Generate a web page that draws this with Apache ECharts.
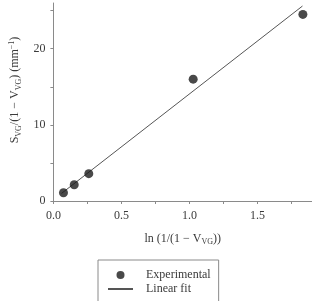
<!DOCTYPE html>
<html>
<head>
<meta charset="utf-8">
<script src="https://cdn.jsdelivr.net/npm/echarts@6/dist/echarts.min.js"></script>
<style>
  html, body { margin: 0; padding: 0; background: #fff; }
  #chart { width: 312px; height: 301px; }
</style>
</head>
<body>
<div id="chart"></div>
<script>
// measured points, x = ln(1/(1-Vvg)), y = Svg/(1-Vvg) in mm^-1
const expX = [0.074, 0.153, 0.26, 1.027, 1.833];
const expY = [1.09, 2.14, 3.59, 16.0, 24.5];
// ends of the fitted line as drawn
const fitX = [0.06, 1.83];
const fitY = [1.0, 25.6];
const xTicks = ['0.0', '0.5', '1.0', '1.5'];
const yTicks = ['0', '10', '20'];

const serif = 'Liberation Serif';
const txt = '#3a3a3a';
const axisGrey = '#8a8a8a';

const chart = echarts.init(document.getElementById('chart'));

chart.setOption({
  animation: false,
  textStyle: { fontFamily: serif },
  grid: { left: 48, top: 3, width: 264, height: 198 },
  xAxis: {
    type: 'value',
    min: 0,
    max: 1.9,
    interval: 0.25,
    splitLine: { show: false },
    axisLine: { lineStyle: { color: axisGrey } },
    axisTick: { length: 3, lineStyle: { color: axisGrey } },
    axisLabel: {
      margin: 9,
      color: txt,
      fontSize: 12,
      fontFamily: serif,
      showMaxLabel: false,
      formatter: v => {
        const s = v.toFixed(1);
        return xTicks.includes(s) && Math.abs(v * 2 - Math.round(v * 2)) < 1e-6 ? s : '';
      }
    },
    name: '{n|ln (1/(1 \u2212 V}{s|VG}{n|))}',
    nameLocation: 'middle',
    nameGap: 30,
    nameTextStyle: {
      rich: {
        n: { fontSize: 12, fontFamily: serif, color: txt },
        s: { fontSize: 8, fontFamily: serif, color: txt, padding: [7, 0, 0, 0] }
      }
    }
  },
  yAxis: {
    type: 'value',
    min: 0,
    max: 26,
    interval: 5,
    splitLine: { show: false },
    axisLine: { show: true, lineStyle: { color: axisGrey } },
    axisTick: { show: true, length: 3, lineStyle: { color: axisGrey } },
    axisLabel: {
      margin: 8,
      color: txt,
      fontSize: 12,
      fontFamily: serif,
      showMaxLabel: false,
      formatter: v => (yTicks.includes(String(v)) ? String(v) : '')
    },
    name: '{n|S}{s|VG}{n|/(1 \u2212 V}{s|VG}{n|) (mm}{p|\u22121}{n|)}',
    nameLocation: 'middle',
    nameGap: 28,
    nameTextStyle: {
      padding: [0, 0, 0, 24],
      rich: {
        n: { fontSize: 12, fontFamily: serif, color: txt },
        s: { fontSize: 8, fontFamily: serif, color: txt, padding: [7, 0, 0, 0] },
        p: { fontSize: 8, fontFamily: serif, color: txt, padding: [0, 0, 6, 0] }
      }
    }
  },
  legend: {
    orient: 'vertical',
    left: 98,
    top: 260,
    height: 80,
    padding: [9, 8, 30, 9],
    itemGap: 2,
    itemWidth: 25,
    itemHeight: 8,
    borderColor: axisGrey,
    borderWidth: 1,
    textStyle: { fontFamily: serif, fontSize: 12, color: txt, padding: [0, 0, 0, 8] },
    data: [
      { name: 'Experimental', icon: 'circle' },
      { name: 'Linear fit', itemStyle: { opacity: 0 } }
    ]
  },
  series: [
    {
      name: 'Linear fit',
      type: 'line',
      data: fitX.map((x, i) => [x, fitY[i]]),
      symbol: 'none',
      lineStyle: { color: '#555', width: 1 },
      itemStyle: { color: '#555' },
      z: 2
    },
    {
      name: 'Experimental',
      type: 'scatter',
      data: expX.map((x, i) => [x, expY[i]]),
      symbol: 'circle',
      symbolSize: 9,
      itemStyle: { color: '#1c1c1c' },
      z: 3
    }
  ]
});
</script>
</body>
</html>
